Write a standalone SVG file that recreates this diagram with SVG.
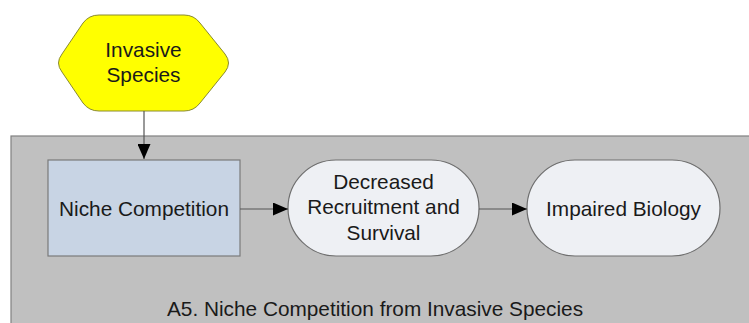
<svg xmlns="http://www.w3.org/2000/svg" width="749" height="323" viewBox="0 0 749 323">
<defs>
<style>
text{font-family:"Liberation Sans",Arial,sans-serif;font-size:20.8px;fill:#1a1a1a;text-anchor:middle}
.edge{stroke:#555;stroke-width:1.2;fill:none}
</style>
<marker id="arr" markerWidth="15" markerHeight="13" refX="15" refY="6.5" orient="auto" markerUnits="userSpaceOnUse">
<path d="M0,0 L15,6.5 L0,13 Z" fill="#000"/>
</marker>
</defs>
<rect width="749" height="323" fill="#fff"/>
<g id="frame">
<rect x="11" y="136" width="750" height="200" fill="#c0c0c0" stroke="#808080" stroke-width="1.2"/>
<text x="375" y="316">A5. Niche Competition from Invasive Species</text>
</g>
<g id="invasive">
<path d="M99,15 L184,15 Q194,15 200,23 L225,54 Q232,63 225,72 L200,103 Q194,111 184,111 L99,111 Q89,111 83,103 L62,72 Q55,63 62,54 L83,23 Q89,15 99,15 Z" fill="#ffff00" stroke="#8a8a30" stroke-width="1"/>
<text x="143.5" y="57">Invasive</text>
<text x="143.5" y="82">Species</text>
</g>
<g id="niche">
<rect x="48" y="160" width="192" height="96" fill="#c8d4e4" stroke="#7a7a7a" stroke-width="1.2"/>
<text x="144" y="216">Niche Competition</text>
</g>
<g id="decreased">
<rect x="288" y="160" width="191" height="96" rx="48" ry="48" fill="#eef0f4" stroke="#6e6e6e" stroke-width="1.2"/>
<text x="383.5" y="189">Decreased</text>
<text x="383.5" y="214">Recruitment and</text>
<text x="383.5" y="240">Survival</text>
</g>
<g id="impaired">
<rect x="527" y="160" width="193" height="96" rx="48" ry="48" fill="#eef0f4" stroke="#6e6e6e" stroke-width="1.2"/>
<text x="623.5" y="216">Impaired Biology</text>
</g>
<g id="connectors">
<line class="edge" x1="144" y1="111" x2="144" y2="159" marker-end="url(#arr)"/>
<line class="edge" x1="240" y1="209" x2="288" y2="209" marker-end="url(#arr)"/>
<line class="edge" x1="479" y1="209" x2="527" y2="209" marker-end="url(#arr)"/>
</g>
</svg>
